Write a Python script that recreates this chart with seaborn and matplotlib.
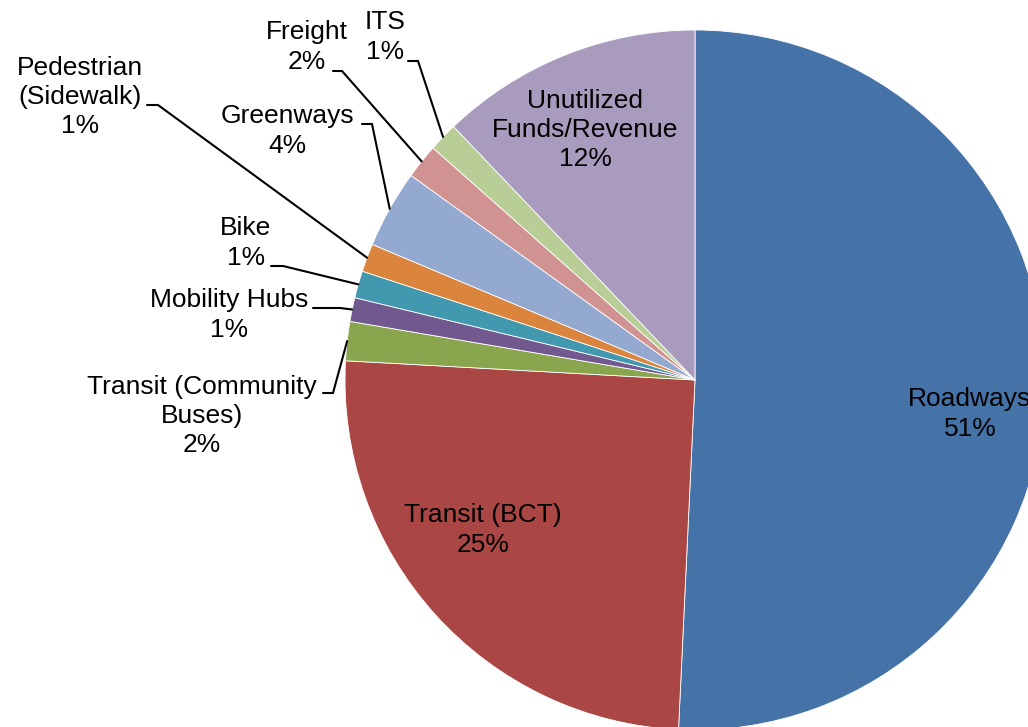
import numpy as np
import matplotlib.pyplot as plt
import seaborn as sns

# slices in clockwise order, starting at 12 o'clock
categories = [
    "Roadways",
    "Transit (BCT)",
    "Transit (Community\nBuses)",
    "Mobility Hubs",
    "Bike",
    "Pedestrian\n(Sidewalk)",
    "Greenways",
    "Freight",
    "ITS",
    "Unutilized\nFunds/Revenue",
]
shares = [50.7, 25.1, 1.8, 1.1, 1.25, 1.3, 3.6, 1.6, 1.35, 12.1]
slice_colors = ["#4572A7", "#AA4643", "#89A54E", "#71588F", "#4198AF",
                "#DB843D", "#93A9CF", "#D19392", "#B9CD96", "#A99BBD"]

W, H = 1028, 727
CX, CY, R = 695, 380, 350


def px(x, y):
    # image pixel -> data coords (pie centre at origin)
    return x - CX, CY - y


# label block centres and leader line (text end, elbow) in image pixels
label_pos = {
    "Roadways": (970, 414),
    "Transit (BCT)": (483, 530),
    "Transit (Community\nBuses)": (202, 416),
    "Mobility Hubs": (229, 315),
    "Bike": (246, 243),
    "Pedestrian\n(Sidewalk)": (80, 97),
    "Greenways": (287, 131),
    "Freight": (307, 47),
    "ITS": (385, 37),
    "Unutilized\nFunds/Revenue": (585, 130),
}
leaders = {
    "Transit (Community\nBuses)": [(323, 393), (333, 393)],
    "Mobility Hubs": [(313, 308), (340, 308)],
    "Bike": [(271, 266), (283, 266)],
    "Pedestrian\n(Sidewalk)": [(147, 105), (158, 105)],
    "Greenways": [(362, 124), (372, 124)],
    "Freight": [(333, 71), (342, 71)],
    "ITS": [(408, 61), (418, 61)],
}

sns.set_style("white")
plt.rcParams["font.family"] = ["Liberation Sans", "DejaVu Sans"]

fig = plt.figure(figsize=(W / 100, H / 100), dpi=100)
ax = fig.add_axes([0, 0, 1, 1])

wedges, _ = ax.pie(
    shares,
    colors=sns.color_palette(slice_colors),
    startangle=90,
    counterclock=False,
    radius=R,
    center=(0, 0),
    wedgeprops=dict(edgecolor="white", linewidth=0.6),
)

for w, name, val in zip(wedges, categories, shares):
    tx, ty = px(*label_pos[name])
    ax.text(tx, ty, f"{name}\n{val:.0f}%", ha="center", va="center",
            multialignment="center", fontsize=19, linespacing=1.27,
            color="black")
    if name in leaders:
        mid = np.deg2rad((w.theta1 + w.theta2) / 2)
        pts = [px(*p) for p in leaders[name]]
        pts.append((R * np.cos(mid), R * np.sin(mid)))
        xs, ys = zip(*pts)
        ax.plot(xs, ys, color="black", lw=1.5, solid_joinstyle="miter")

ax.set_xlim(-CX, W - CX)
ax.set_ylim(CY - H, CY)
ax.set_aspect("equal")
ax.set_axis_off()

fig.savefig("out.png", dpi=100)
